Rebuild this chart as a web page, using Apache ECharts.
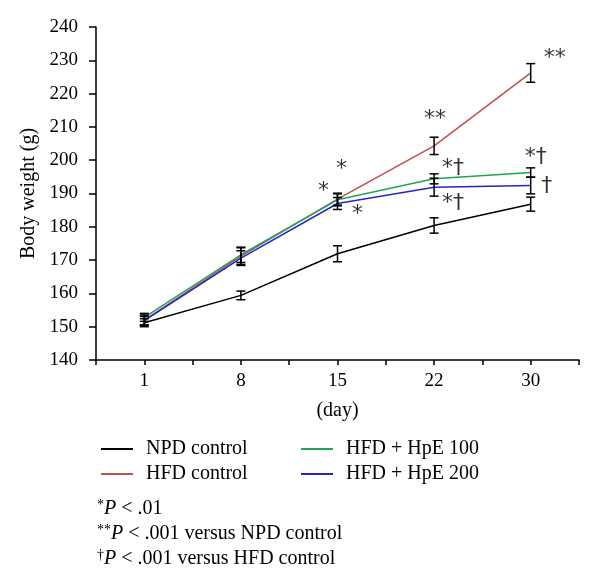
<!DOCTYPE html>
<html>
<head>
<meta charset="utf-8">
<script src="https://cdn.jsdelivr.net/npm/echarts@6/dist/echarts.min.js"></script>
<style>html,body{margin:0;padding:0;background:#fff}#c{width:600px;height:583px}</style>
</head>
<body>
<div id="c"></div>
<script>
const days = ['1', '8', '15', '22', '30'];
const seriesNames = ['NPD control', 'HFD control', 'HFD + HpE 100', 'HFD + HpE 200'];
const npd = [151.2, 159.4, 171.9, 180.4, 186.8];
const hfd = [152.0, 171.2, 188.3, 204.3, 226.2];
const hpe100 = [152.8, 171.6, 188.1, 194.4, 196.3];
const hpe200 = [151.8, 170.6, 187.0, 191.9, 192.4];
const npdErr = [1.2, 1.3, 2.4, 2.3, 2.1];
const hfdErr = [1.5, 2.5, 1.8, 2.6, 2.8];
const hpe100Err = [1.2, 2.3, 1.8, 1.5, 1.4];
const hpe200Err = [1.3, 2.2, 1.8, 2.7, 2.5];
const hfdMarks = ['', '', '*', '**', '**'];
const hpe100Marks = ['', '', '*', '*†', '*†'];
const hpe200Marks = ['', '', '*', '*†', '†'];
const footnotes = [
  ['*', 'P', ' < .01'],
  ['**', 'P', ' < .001 versus NPD control'],
  ['†', 'P', ' < .001 versus HFD control']
];

const serif = '"Liberation Serif", "DejaVu Serif", serif';
const colors = ['#000000', '#c0504d', '#1fa55a', '#2424c8'];
const values = [npd, hfd, hpe100, hpe200];
const errs = [npdErr, hfdErr, hpe100Err, hpe200Err];
const marks = [null, hfdMarks, hpe100Marks, hpe200Marks];
// pixel offsets for annotation labels (style), per series per point
const markOffsets = [
  null,
  [[0,0],[0,0],[4,-30],[1,-27],[24,-15]],
  [[0,0],[0,0],[-14,-9],[19,-11],[5,-15]],
  [[0,0],[0,0],[20,11],[19,16],[16,1]]
];
const xPos = i => 2 * i + 1;

const series = [];
values.forEach((vals, s) => {
  series.push({
    name: seriesNames[s], type: 'line', symbol: 'none', z: 2,
    lineStyle: { color: colors[s], width: 1.5 },
    itemStyle: { color: colors[s] },
    data: vals.map((v, i) => [xPos(i), v])
  });
});
values.forEach((vals, s) => {
  series.push({
    type: 'custom', z: 3, silent: true,
    data: vals.map((v, i) => [xPos(i), v - errs[s][i], v + errs[s][i]]),
    renderItem: (params, api) => {
      const lo = api.coord([api.value(0), api.value(1)]);
      const hi = api.coord([api.value(0), api.value(2)]);
      const w = 4.5;
      const st = { stroke: '#000', lineWidth: 1.5 };
      return { type: 'group', children: [
        { type: 'line', shape: { x1: lo[0], y1: lo[1], x2: hi[0], y2: hi[1] }, style: st },
        { type: 'line', shape: { x1: lo[0]-w, y1: lo[1], x2: lo[0]+w, y2: lo[1] }, style: st },
        { type: 'line', shape: { x1: hi[0]-w, y1: hi[1], x2: hi[0]+w, y2: hi[1] }, style: st }
      ]};
    }
  });
});
values.forEach((vals, s) => {
  if (!marks[s]) return;
  series.push({
    type: 'scatter', symbolSize: 0, z: 4, silent: true,
    data: vals.map((v, i) => ({
      value: [xPos(i), v],
      label: {
        show: marks[s][i] !== '', formatter: marks[s][i],
        position: 'inside', offset: markOffsets[s][i],
        fontFamily: '"DejaVu Sans", sans-serif', fontSize: 22, color: '#000'
      }
    }))
  });
});

const chart = echarts.init(document.getElementById('c'), null, { renderer: 'canvas' });
const rich = {
  s: { fontSize: 14, fontFamily: serif, verticalAlign: 'top', lineHeight: 22, color: '#000' },
  i: { fontSize: 20, fontFamily: serif, fontStyle: 'italic', lineHeight: 22, color: '#000' },
  t: { fontSize: 20, fontFamily: serif, lineHeight: 22, color: '#000' }
};
chart.setOption({
  animation: false,
  backgroundColor: '#fff',
  grid: { left: 96, right: 21, top: 27, bottom: 223, containLabel: false },
  xAxis: {
    type: 'value', min: 0, max: 10, interval: 1,
    name: '(day)', nameLocation: 'middle', nameGap: 41,
    nameTextStyle: { fontFamily: serif, fontSize: 20, color: '#000' },
    axisLine: { show: true, lineStyle: { color: '#000', width: 1.5 } },
    axisTick: { show: true, length: 5, lineStyle: { color: '#000', width: 1.5 } },
    axisLabel: {
      margin: 12, fontFamily: serif, fontSize: 19, color: '#000',
      formatter: v => (v % 2 === 1 ? days[(v - 1) / 2] : '')
    },
    splitLine: { show: false }
  },
  yAxis: {
    type: 'value', min: 140, max: 240, interval: 10,
    name: 'Body weight (g)', nameLocation: 'middle', nameGap: 54, nameRotate: 90,
    nameTextStyle: { fontFamily: serif, fontSize: 20, color: '#000' },
    axisLine: { show: true, lineStyle: { color: '#000', width: 1.5 } },
    axisTick: { show: true, length: 7, lineStyle: { color: '#000', width: 1.5 } },
    axisLabel: { margin: 18, fontFamily: serif, fontSize: 19, color: '#000' },
    splitLine: { show: false }
  },
  legend: [
    {
      left: 96, top: 434, orient: 'vertical', itemGap: 5, itemWidth: 32, itemHeight: 2,
      icon: 'rect', data: seriesNames.slice(0, 2),
      textStyle: { fontFamily: serif, fontSize: 20, color: '#000', padding: [0, 0, 0, 8] }
    },
    {
      left: 296, top: 434, orient: 'vertical', itemGap: 5, itemWidth: 32, itemHeight: 2,
      icon: 'rect', data: seriesNames.slice(2, 4),
      textStyle: { fontFamily: serif, fontSize: 20, color: '#000', padding: [0, 0, 0, 8] }
    }
  ],
  graphic: footnotes.map((f, k) => ({
    type: 'text', left: 97, top: 498 + k * 25,
    style: { text: '{s|' + f[0] + '}{i|' + f[1] + '}{t|' + f[2] + '}', rich: rich }
  })),
  series: series
});
</script>
</body>
</html>
